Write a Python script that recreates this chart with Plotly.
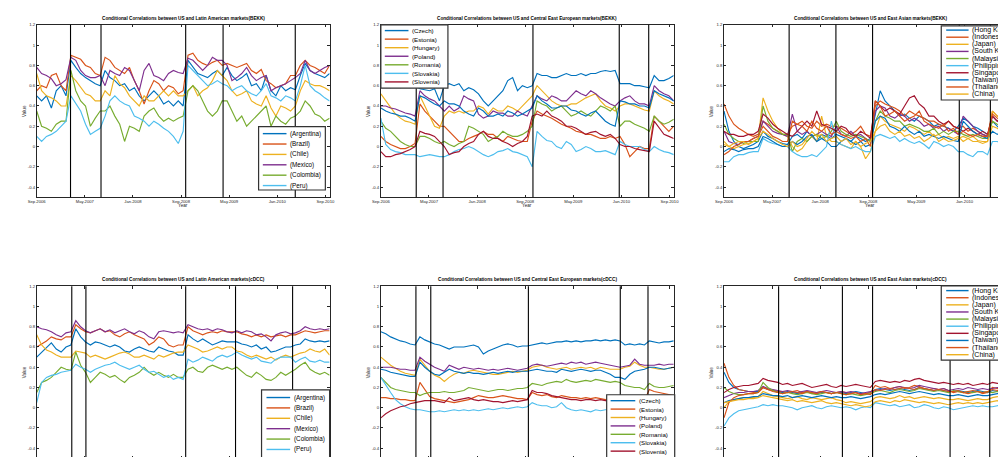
import plotly.graph_objects as go

W, H = 1006, 457
N = 61
X_END = 48.7
months = [i * X_END / (N - 1) for i in range(N)]

tick_vals = [0, 8, 16, 24, 32, 40, 48]
tick_text = ["Sep.2006", "May.2007", "Jan.2008", "Sep.2008", "May.2009", "Jan.2010", "Sep.2010"]
y_tick_vals = [-0.4, -0.2, 0, 0.2, 0.4, 0.6, 0.8, 1, 1.2]
y_tick_text = ["-0.4", "-0.2", "0", "0.2", "0.4", "0.6", "0.8", "1", "1.2"]

COL = ["#0072BD", "#D95319", "#EDB120", "#7E2F8E", "#77AC30", "#4DBEEE", "#A2142F"]

names_la = ["(Argentina)", "(Brazil)", "(Chile)", "(Mexico)", "(Colombia)", "(Peru)"]
names_cee = ["(Czech)", "(Estonia)", "(Hungary)", "(Poland)", "(Romania)", "(Slovakia)", "(Slovenia)"]
names_ea = ["(Hong Kong)", "(Indonesia)", "(Japan)", "(South Korea)", "(Malaysia)", "(Philippines)",
            "(Singapore)", "(Taiwan)", "(Thailand)", "(China)"]

# ---------------- Latin America, BEKK ----------------
la_b_argentina = [0.5,0.45,0.5,0.38,0.55,0.6,0.5, 0.85,0.78,0.72,0.68,0.65,0.62,0.6,
    0.75,0.68,0.65,0.6,0.62,0.55,0.58,0.5,0.45,0.5,0.55,0.5,0.42,0.45,0.4,0.45,0.4,
    0.85,0.78,0.72,0.7,0.68,0.72,0.75,0.7,
    0.78,0.7,0.65,0.68,0.72,0.6,0.62,0.55,0.7,0.55,0.5,0.6,0.55,0.58,0.56,
    0.7,0.82,0.75,0.72,0.7,0.68,0.72]
la_b_brazil = [0.55,0.6,0.58,0.7,0.72,0.6,0.55, 0.9,0.88,0.86,0.8,0.78,0.72,0.7,
    0.88,0.85,0.78,0.75,0.72,0.78,0.65,0.55,0.42,0.55,0.65,0.62,0.55,0.6,0.58,0.52,0.55,
    0.9,0.92,0.85,0.82,0.8,0.83,0.85,0.8,
    0.82,0.8,0.78,0.8,0.82,0.75,0.72,0.76,0.65,0.62,0.58,0.6,0.62,0.7,0.7,
    0.8,0.85,0.8,0.78,0.75,0.72,0.8]
la_b_chile = [0.72,0.55,0.5,0.48,0.45,0.4,0.4, 0.7,0.65,0.58,0.52,0.5,0.45,0.45,
    0.55,0.5,0.7,0.62,0.58,0.5,0.45,0.4,0.5,0.45,0.45,0.5,0.55,0.5,0.55,0.5,0.5,
    0.55,0.6,0.5,0.55,0.58,0.65,0.75,0.7,
    0.65,0.55,0.5,0.52,0.55,0.45,0.42,0.4,0.5,0.38,0.3,0.4,0.38,0.35,0.4,
    0.55,0.65,0.62,0.6,0.6,0.58,0.55]
la_b_mexico = [0.78,0.72,0.7,0.67,0.6,0.62,0.66, 0.88,0.85,0.75,0.7,0.68,0.68,0.7,
    0.6,0.75,0.72,0.7,0.78,0.75,0.65,0.55,0.75,0.82,0.7,0.68,0.65,0.72,0.75,0.73,0.72,
    0.87,0.85,0.8,0.75,0.8,0.88,0.85,0.85,
    0.8,0.65,0.68,0.72,0.78,0.7,0.65,0.68,0.7,0.55,0.58,0.6,0.62,0.65,0.68,
    0.72,0.85,0.75,0.72,0.75,0.78,0.8]
la_b_colombia = [0.35,0.2,0.18,0.15,0.22,0.25,0.25, 0.75,0.55,0.45,0.4,0.2,0.28,0.35,
    0.35,0.4,0.3,0.22,0.05,0.2,0.18,0.15,0.3,0.35,0.38,0.3,0.25,0.28,0.25,0.28,0.3,
    0.55,0.6,0.55,0.45,0.35,0.3,0.35,0.45,
    0.45,0.35,0.25,0.3,0.2,0.25,0.3,0.35,0.4,0.2,0.3,0.25,0.22,0.28,0.3,
    0.35,0.45,0.4,0.32,0.3,0.25,0.28]
la_b_peru = [0.1,0.05,0.1,0.12,0.15,0.2,0.25, 0.5,0.42,0.35,0.22,0.12,0.15,0.18,
    0.3,0.45,0.5,0.45,0.42,0.4,0.3,0.28,0.25,0.2,0.25,0.22,0.18,0.15,0.1,0.03,0.15,
    0.8,0.75,0.7,0.65,0.6,0.62,0.65,0.62,
    0.6,0.55,0.58,0.6,0.55,0.52,0.5,0.55,0.62,0.5,0.48,0.45,0.5,0.48,0.45,
    0.6,0.8,0.6,0.55,0.52,0.48,0.45]

# ---------------- Central East Europe, BEKK ----------------
cee_b_czech = [0.6,0.6,0.58,0.6,0.58,0.6,0.58,0.6, 0.57,0.56,0.55,0.57,0.45,
    0.6,0.62,0.6,0.62,0.55,0.58,0.56,0.52,0.45,0.4,0.45,0.5,0.55,0.65,0.68,0.55,0.6,0.58,0.6,
    0.72,0.7,0.7,0.68,0.68,0.7,0.72,0.7,0.7,0.72,0.7,0.72,0.72,0.74,0.75,0.74,0.75,
    0.62,0.62,0.62,0.6,0.6,0.59,0.58, 0.7,0.65,0.65,0.67,0.7]
cee_b_estonia = [0.1,0.05,0.02,0.0,-0.02,-0.02,0.0,0.03, 0.42,0.35,0.3,0.25,0.2,
    0.2,0.15,0.1,0.05,0.05,0.08,0.1,0.12,0.15,0.12,0.12,0.08,0.05,0.1,0.08,0.06,0.05,0.05,0.25,
    0.35,0.32,0.3,0.28,0.25,0.22,0.2,0.18,0.15,0.14,0.12,0.12,0.1,0.08,0.08,0.1,0.08,
    0.1,0.02,-0.1,-0.05,0.0,-0.02,-0.02, 0.3,0.25,0.2,0.15,0.2]
cee_b_hungary = [0.52,0.45,0.38,0.32,0.28,0.25,0.24,0.22, 0.5,0.4,0.3,0.2,0.18,
    0.3,0.35,0.33,0.35,0.33,0.35,0.35,0.4,0.38,0.32,0.38,0.35,0.35,0.4,0.38,0.35,0.4,0.45,0.5,
    0.6,0.55,0.5,0.45,0.42,0.4,0.4,0.42,0.42,0.45,0.48,0.5,0.52,0.45,0.4,0.38,0.35,
    0.4,0.42,0.42,0.4,0.38,0.36,0.35, 0.55,0.5,0.47,0.45,0.42]
cee_b_poland = [0.4,0.4,0.38,0.37,0.35,0.33,0.32,0.3, 0.55,0.5,0.47,0.45,0.4,
    0.35,0.4,0.35,0.38,0.5,0.47,0.45,0.32,0.28,0.3,0.35,0.33,0.33,0.3,0.3,0.35,0.32,0.3,0.4,
    0.5,0.47,0.45,0.5,0.48,0.45,0.45,0.5,0.55,0.52,0.5,0.55,0.52,0.48,0.45,0.42,0.4,
    0.45,0.48,0.5,0.45,0.42,0.42,0.4, 0.6,0.55,0.52,0.5,0.45]
cee_b_romania = [0.25,0.18,0.15,0.1,0.05,0.02,0.0,0.0, 0.1,0.1,0.08,0.05,0.03,
    0.05,0.02,0.0,0.03,0.05,0.2,0.18,0.15,0.12,0.05,0.08,0.1,0.15,0.12,0.1,0.1,0.12,0.15,0.2,
    0.45,0.42,0.4,0.35,0.38,0.4,0.35,0.3,0.32,0.35,0.32,0.3,0.35,0.4,0.38,0.35,0.4,
    0.2,0.25,0.25,0.22,0.2,0.18,0.15, 0.3,0.25,0.22,0.24,0.27]
cee_b_slovakia = [0.28,0.02,-0.03,-0.05,-0.06,-0.08,-0.08,-0.08, -0.1,-0.09,-0.08,-0.09,-0.1,
    -0.1,-0.08,-0.05,-0.03,-0.02,0.0,-0.02,-0.05,-0.08,-0.1,-0.08,-0.05,-0.04,-0.02,-0.05,-0.06,-0.08,-0.1,-0.2,
    0.15,0.1,0.06,0.05,0.0,-0.02,0.05,0.02,-0.05,-0.03,0.0,-0.02,-0.05,-0.05,-0.04,-0.06,-0.08,
    0.05,0.02,0.0,0.0,0.0,-0.03,-0.05, 0.0,-0.03,-0.05,-0.06,-0.08]
cee_b_slovenia = [-0.05,-0.1,-0.1,-0.08,-0.07,-0.05,-0.03,0.0, 0.15,0.13,0.12,0.1,0.05,
    0.0,-0.08,-0.06,-0.05,0.0,0.03,0.05,0.12,0.15,0.1,0.08,0.08,0.05,0.03,0.0,0.03,0.05,0.1,0.3,
    0.32,0.3,0.35,0.3,0.28,0.25,0.2,0.2,0.18,0.15,0.12,0.14,0.15,0.12,0.1,0.12,0.08,
    0.02,0.0,0.0,-0.02,-0.03,-0.04,-0.05, 0.25,0.18,0.12,0.1,0.08]
cee_b_extra = [0.38,0.35,0.33,0.32,0.3,0.3,0.28,0.25, 0.5,0.48,0.45,0.42,0.4,
    0.45,0.42,0.42,0.4,0.35,0.32,0.3,0.38,0.35,0.3,0.3,0.32,0.3,0.35,0.33,0.3,0.32,0.35,0.38,
    0.5,0.45,0.42,0.38,0.38,0.4,0.4,0.36,0.35,0.32,0.3,0.33,0.35,0.3,0.25,0.22,0.2,
    0.45,0.44,0.42,0.42,0.4,0.4,0.38, 0.55,0.52,0.5,0.48,0.45]

# ---------------- East Asia, BEKK ----------------
ea_b_hongkong = [0.35,0.15,0.05,0.0,-0.02,0.0,0.02,0.05, 0.15,0.1,0.08,0.05,0.03,0.02,
    0.1,0.12,0.08,0.15,0.1,0.05,0.12,0.1,0.08, 0.12,0.1,0.08,0.05,0.1,0.08,0.05,0.08,
    0.3,0.55,0.45,0.4,0.35,0.3,0.32,0.28,0.25,0.3,0.28,0.25,0.2,0.22,0.2,0.18,0.15,0.2,
    0.28,0.25,0.2,0.18,0.15,0.12, 0.25,0.2,0.15,0.18,0.2,0.2]
ea_b_indonesia = [0.42,0.3,0.22,0.18,0.15,0.12,0.1,0.12, 0.25,0.22,0.18,0.15,0.12,0.12,
    0.2,0.22,0.25,0.2,0.18,0.25,0.2,0.22,0.2, 0.2,0.18,0.15,0.12,0.15,0.2,0.12,0.1,
    0.4,0.45,0.42,0.4,0.38,0.35,0.3,0.35,0.32,0.3,0.28,0.25,0.25,0.22,0.2,0.25,0.2,0.18,
    0.2,0.15,0.18,0.15,0.12,0.1, 0.35,0.3,0.28,0.25,0.22,0.2]
ea_b_japan = [0.05,0.0,-0.02,0.0,0.02,0.03,0.05,0.08, 0.48,0.35,0.25,0.18,0.12,0.1,
    0.0,-0.05,-0.02,0.05,0.1,0.05,0.3,0.1,0.05, 0.05,0.02,0.0,-0.02,0.05,0.0,-0.12,-0.05,
    0.15,0.3,0.25,0.22,0.2,0.18,0.15,0.2,0.18,0.15,0.12,0.15,0.1,0.12,0.08,0.1,0.08,0.1,
    0.05,0.08,0.1,0.06,0.05,0.05, 0.35,0.3,0.25,0.22,0.2,0.18]
ea_b_korea = [0.15,0.05,0.03,0.02,0.05,0.05,0.08,0.1, 0.25,0.2,0.15,0.13,0.12,0.1,
    0.32,0.15,0.12,0.15,0.1,0.12,0.15,0.12,0.1, 0.2,0.12,0.1,0.15,0.1,0.12,0.08,0.05,
    0.35,0.4,0.38,0.3,0.28,0.32,0.3,0.25,0.28,0.25,0.2,0.22,0.18,0.2,0.15,0.18,0.15,0.12,
    0.3,0.25,0.2,0.15,0.12,0.1, 0.3,0.25,0.22,0.2,0.18,0.2]
ea_b_malaysia = [0.22,0.12,0.08,0.05,0.03,0.05,0.05,0.05, 0.4,0.25,0.18,0.15,0.12,0.12,
    -0.05,0.05,0.08,0.05,0.1,0.12,0.08,0.1,0.15, 0.25,0.15,0.12,0.1,0.12,0.1,0.08,0.05,
    0.25,0.35,0.3,0.28,0.25,0.25,0.2,0.22,0.2,0.18,0.15,0.15,0.18,0.12,0.15,0.12,0.15,0.15,
    0.12,0.1,0.12,0.1,0.08,0.08, 0.25,0.22,0.2,0.18,0.2,0.2]
ea_b_philippines = [-0.15,-0.15,-0.1,-0.08,-0.08,-0.06,-0.05,-0.05, 0.08,0.05,0.03,0.02,0.0,0.0,
    -0.05,-0.08,-0.1,-0.1,-0.08,-0.1,-0.05,0.0,0.25, 0.05,0.02,0.0,-0.02,0.0,-0.03,-0.05,-0.05,
    0.1,0.12,0.1,0.08,0.1,0.05,0.08,0.05,0.03,0.05,0.02,-0.02,0.05,0.03,0.0,0.02,0.0,-0.05,
    -0.05,-0.08,-0.1,-0.05,-0.05,-0.08, 0.05,0.05,0.03,0.05,0.06,0.06]
ea_b_singapore = [0.15,0.12,0.12,0.1,0.1,0.12,0.12,0.15, 0.32,0.28,0.22,0.18,0.15,0.12,
    0.1,0.15,0.2,0.25,0.2,0.35,0.22,0.2,0.18, 0.15,0.2,0.18,0.12,0.1,0.15,0.12,0.08,
    0.45,0.4,0.35,0.38,0.35,0.32,0.4,0.48,0.5,0.42,0.38,0.3,0.3,0.25,0.22,0.25,0.2,0.18,
    0.15,0.18,0.15,0.12,0.15,0.12, 0.3,0.25,0.3,0.22,0.2,0.2]
ea_b_taiwan = [-0.05,-0.02,-0.03,-0.05,-0.03,-0.02,-0.02,0.0, 0.1,0.08,0.05,0.02,0.0,0.0,
    0.05,0.02,0.05,0.1,0.12,0.05,0.08,0.05,0.0, 0.0,0.05,0.08,0.05,0.02,0.05,0.0,0.02,
    0.25,0.3,0.28,0.2,0.18,0.15,0.2,0.15,0.12,0.15,0.1,0.12,0.1,0.08,0.1,0.08,0.06,0.05,
    0.25,0.2,0.15,0.12,0.1,0.08, 0.15,0.12,0.15,0.12,0.12,0.12]
ea_b_thailand = [-0.08,-0.05,0.0,0.02,0.05,0.05,0.08,0.1, 0.2,0.15,0.1,0.08,0.05,0.05,
    0.25,0.22,0.2,0.15,0.25,0.18,0.15,0.2,0.12, 0.15,0.12,0.1,0.08,0.1,0.05,0.08,0.0,
    0.45,0.4,0.3,0.32,0.35,0.3,0.25,0.28,0.3,0.35,0.25,0.22,0.2,0.18,0.22,0.15,0.18,0.12,
    0.15,0.12,0.1,0.12,0.1,0.1, 0.32,0.28,0.25,0.3,0.25,0.22]
ea_b_china = [0.02,0.0,0.03,0.05,0.05,0.02,0.05,0.08, 0.15,0.12,0.08,0.05,0.02,0.0,
    0.05,0.0,0.02,0.08,0.15,0.1,0.12,0.05,0.08, 0.1,0.05,0.08,0.02,0.05,0.0,0.03,0.05,
    0.15,0.2,0.22,0.15,0.12,0.15,0.1,0.12,0.08,0.1,0.05,0.08,0.12,0.05,0.08,0.05,0.06,0.08,
    0.1,0.08,0.05,0.05,0.03,0.05, 0.2,0.18,0.15,0.15,0.12,0.12]

# ---------------- Latin America, cDCC ----------------
la_c_argentina = [0.5,0.55,0.6,0.64,0.58,0.55,0.6,0.62, 0.78,0.7,0.65,
    0.62,0.65,0.64,0.62,0.6,0.62,0.6,0.56,0.55,0.58,0.6,0.58,0.56,0.55,0.6,0.58,0.56,0.55,0.52,0.52,
    0.72,0.68,0.65,0.68,0.65,0.62,0.64,0.66,0.65,0.65,
    0.65,0.63,0.62,0.6,0.62,0.58,0.6,0.55,0.56,0.58,0.6,0.6,
    0.62,0.63,0.68,0.66,0.65,0.66,0.65,0.66]
la_c_brazil = [0.6,0.63,0.66,0.7,0.68,0.67,0.7,0.7, 0.82,0.78,0.75,
    0.74,0.76,0.78,0.75,0.76,0.72,0.7,0.73,0.75,0.72,0.7,0.68,0.62,0.65,0.7,0.68,0.62,0.6,0.62,0.62,
    0.8,0.76,0.74,0.72,0.74,0.75,0.74,0.76,0.75,0.75,
    0.75,0.73,0.72,0.7,0.72,0.7,0.72,0.7,0.71,0.72,0.7,0.72,
    0.72,0.74,0.76,0.75,0.74,0.75,0.76,0.76]
la_c_chile = [0.72,0.62,0.57,0.55,0.52,0.5,0.5,0.5, 0.56,0.55,0.54,
    0.5,0.52,0.5,0.48,0.5,0.52,0.54,0.55,0.53,0.5,0.5,0.52,0.5,0.48,0.52,0.5,0.52,0.54,0.55,0.55,
    0.62,0.6,0.58,0.55,0.56,0.58,0.6,0.58,0.6,0.6,
    0.56,0.55,0.52,0.5,0.52,0.5,0.48,0.5,0.47,0.5,0.52,0.5,
    0.52,0.54,0.55,0.58,0.56,0.55,0.58,0.52]
la_c_mexico = [0.8,0.78,0.77,0.75,0.72,0.7,0.74,0.75, 0.86,0.8,0.76,
    0.74,0.76,0.78,0.75,0.77,0.74,0.76,0.78,0.75,0.73,0.76,0.74,0.7,0.68,0.75,0.76,0.75,0.74,0.75,0.74,
    0.82,0.8,0.78,0.77,0.78,0.76,0.78,0.77,0.75,0.74,
    0.76,0.74,0.76,0.75,0.72,0.73,0.7,0.66,0.72,0.74,0.75,0.73,
    0.74,0.76,0.8,0.78,0.77,0.78,0.77,0.78]
la_c_colombia = [0.15,0.25,0.27,0.3,0.35,0.4,0.38,0.37, 0.55,0.42,0.35,
    0.25,0.3,0.35,0.33,0.3,0.32,0.28,0.25,0.3,0.32,0.35,0.4,0.35,0.32,0.35,0.32,0.3,0.33,0.3,0.3,
    0.38,0.4,0.36,0.35,0.4,0.42,0.4,0.38,0.4,0.38,
    0.4,0.36,0.32,0.3,0.35,0.32,0.28,0.27,0.3,0.35,0.32,0.35,
    0.38,0.42,0.45,0.38,0.35,0.33,0.35,0.32]
la_c_peru = [0.05,0.25,0.3,0.32,0.33,0.35,0.36,0.37, 0.43,0.4,0.38,
    0.35,0.38,0.4,0.42,0.43,0.45,0.42,0.4,0.38,0.4,0.42,0.38,0.35,0.36,0.33,0.3,0.32,0.28,0.3,0.28,
    0.48,0.45,0.47,0.5,0.48,0.46,0.5,0.52,0.5,0.52,
    0.55,0.52,0.5,0.48,0.5,0.46,0.45,0.44,0.48,0.5,0.5,0.5,
    0.45,0.48,0.5,0.46,0.45,0.47,0.45,0.45]

# ---------------- Central East Europe, cDCC ----------------
cee_c_czech = [0.75,0.73,0.7,0.68,0.66,0.65,0.63,0.62, 0.7,0.67,0.65,
    0.63,0.62,0.6,0.58,0.6,0.6,0.6,0.61,0.62,0.6,0.53,0.56,0.58,0.6,0.62,0.63,0.62,0.6,0.61,0.61,
    0.62,0.63,0.64,0.63,0.64,0.65,0.65,0.66,0.65,0.66,0.65,0.66,0.66,0.67,0.66,0.67,0.66,0.67,0.66,
    0.62,0.63,0.62,0.63,0.62, 0.66,0.65,0.64,0.65,0.65,0.66]
cee_c_estonia = [0.1,0.1,0.09,0.09,0.08,0.08,0.07,0.07, 0.25,0.18,0.11,
    0.09,0.08,0.07,0.06,0.05,0.06,0.07,0.08,0.1,0.12,0.11,0.1,0.1,0.11,0.12,0.11,0.1,0.09,0.09,0.08,
    0.15,0.13,0.12,0.13,0.11,0.1,0.12,0.11,0.1,0.1,0.09,0.1,0.09,0.1,0.09,0.08,0.09,0.08,0.08,
    0.08,0.09,0.08,0.08,0.07, 0.18,0.16,0.15,0.14,0.13,0.12]
cee_c_hungary = [0.5,0.46,0.42,0.39,0.36,0.34,0.33,0.32, 0.48,0.42,0.36,
    0.32,0.3,0.26,0.3,0.33,0.35,0.34,0.36,0.37,0.36,0.35,0.34,0.33,0.33,0.34,0.35,0.36,0.35,0.36,0.37,
    0.4,0.41,0.42,0.4,0.39,0.38,0.39,0.4,0.38,0.39,0.4,0.39,0.4,0.38,0.4,0.39,0.38,0.38,0.38,
    0.4,0.41,0.45,0.42,0.4, 0.4,0.39,0.38,0.38,0.39,0.4]
cee_c_poland = [0.4,0.4,0.4,0.39,0.38,0.38,0.37,0.37, 0.5,0.46,0.43,
    0.4,0.38,0.36,0.42,0.4,0.38,0.4,0.39,0.38,0.39,0.38,0.37,0.38,0.37,0.38,0.39,0.38,0.37,0.38,0.39,
    0.42,0.43,0.42,0.41,0.42,0.43,0.44,0.43,0.45,0.44,0.45,0.43,0.44,0.45,0.44,0.43,0.42,0.41,0.4,
    0.41,0.42,0.48,0.43,0.42, 0.42,0.42,0.43,0.42,0.43,0.43]
cee_c_romania = [0.3,0.25,0.2,0.18,0.17,0.16,0.15,0.15, 0.12,0.14,0.15,
    0.15,0.15,0.16,0.15,0.15,0.16,0.17,0.2,0.19,0.18,0.17,0.16,0.17,0.18,0.18,0.17,0.18,0.19,0.19,0.2,
    0.24,0.23,0.22,0.24,0.25,0.26,0.25,0.28,0.26,0.25,0.26,0.27,0.26,0.28,0.27,0.26,0.25,0.26,0.25,
    0.22,0.21,0.2,0.2,0.18, 0.24,0.21,0.2,0.2,0.21,0.22]
cee_c_slovakia = [0.3,0.22,0.15,0.08,0.04,0.01,-0.01,-0.02, -0.02,-0.03,-0.04,
    -0.04,-0.03,-0.04,-0.03,-0.02,-0.03,-0.02,-0.03,-0.02,-0.03,-0.02,-0.01,-0.02,-0.01,0.0,-0.01,0.0,0.01,0.0,0.01,
    0.05,0.03,0.02,0.02,0.0,0.01,0.05,0.0,-0.02,-0.03,-0.02,-0.03,-0.04,-0.02,-0.03,-0.02,-0.02,-0.03,-0.02,
    -0.03,-0.03,-0.02,-0.03,-0.03, -0.01,-0.02,-0.02,-0.01,-0.02,-0.02]
cee_c_slovenia = [-0.1,-0.06,-0.03,-0.01,0.01,0.02,0.04,0.05, 0.06,0.07,0.07,
    0.07,0.06,0.05,0.1,0.07,0.08,0.09,0.1,0.08,0.07,0.08,0.07,0.06,0.06,0.05,0.06,0.07,0.06,0.07,0.08,
    0.17,0.15,0.15,0.14,0.12,0.11,0.1,0.09,0.08,0.08,0.07,0.08,0.08,0.07,0.08,0.07,0.07,0.08,0.07,
    0.08,0.07,0.08,0.07,0.07, 0.1,0.1,0.09,0.1,0.1,0.1]
cee_c_extra = [0.38,0.37,0.35,0.34,0.33,0.32,0.31,0.31, 0.45,0.4,0.36,
    0.33,0.32,0.35,0.38,0.36,0.35,0.34,0.35,0.34,0.34,0.33,0.34,0.35,0.34,0.35,0.36,0.35,0.36,0.36,0.36,
    0.37,0.38,0.37,0.36,0.36,0.35,0.38,0.37,0.36,0.37,0.38,0.37,0.36,0.37,0.37,0.35,0.33,0.3,0.3,
    0.28,0.33,0.36,0.37,0.38, 0.4,0.4,0.39,0.38,0.39,0.4]

# ---------------- East Asia, cDCC ----------------
ea_c_hongkong = [0.35,0.25,0.2,0.18,0.17,0.16,0.16,0.16, 0.2,0.18,0.17,0.16,
    0.15,0.16,0.15,0.14,0.15,0.16,0.15,0.14,0.15,0.15,0.14,0.15,0.15, 0.14,0.15,0.16,0.15,0.14,0.15,
    0.18,0.19,0.18,0.17,0.18,0.19,0.18,0.17,0.18,0.2,0.19,0.18,0.17,0.18,0.17,0.16,
    0.16,0.17,0.16,0.15,0.16,0.17,0.16,0.15, 0.17,0.16,0.17,0.16,0.17,0.16]
ea_c_indonesia = [0.44,0.3,0.22,0.18,0.17,0.16,0.15,0.15, 0.2,0.18,0.17,0.16,
    0.16,0.15,0.16,0.17,0.15,0.16,0.14,0.15,0.16,0.15,0.14,0.15,0.16, 0.15,0.14,0.15,0.13,0.14,0.15,
    0.22,0.2,0.21,0.19,0.2,0.21,0.19,0.2,0.22,0.21,0.19,0.18,0.19,0.18,0.19,0.17,
    0.15,0.16,0.15,0.14,0.15,0.16,0.14,0.15, 0.2,0.19,0.18,0.19,0.18,0.18]
ea_c_japan = [0.0,0.06,0.08,0.09,0.1,0.1,0.1,0.11, 0.16,0.14,0.12,0.11,
    0.1,0.09,0.1,0.11,0.09,0.08,0.1,0.09,0.08,0.09,0.1,0.08,0.07, 0.05,0.06,0.05,0.04,0.05,0.06,
    0.1,0.11,0.1,0.09,0.1,0.12,0.1,0.11,0.09,0.1,0.11,0.1,0.09,0.1,0.09,0.08,
    0.08,0.09,0.08,0.07,0.08,0.09,0.08,0.08, 0.1,0.11,0.1,0.1,0.11,0.1]
ea_c_korea = [0.1,0.12,0.14,0.15,0.15,0.16,0.16,0.17, 0.21,0.19,0.18,0.17,
    0.16,0.17,0.16,0.15,0.16,0.17,0.16,0.15,0.16,0.17,0.16,0.15,0.16, 0.15,0.16,0.15,0.14,0.15,0.16,
    0.17,0.18,0.19,0.18,0.2,0.21,0.2,0.19,0.2,0.22,0.21,0.2,0.19,0.18,0.19,0.17,
    0.18,0.19,0.18,0.2,0.19,0.18,0.19,0.18, 0.19,0.2,0.19,0.2,0.19,0.2]
ea_c_malaysia = [0.2,0.16,0.14,0.13,0.13,0.14,0.14,0.15, 0.25,0.2,0.17,0.15,
    0.14,0.15,0.14,0.13,0.14,0.15,0.14,0.13,0.14,0.15,0.14,0.15,0.14, 0.13,0.14,0.13,0.12,0.13,0.14,
    0.16,0.17,0.16,0.15,0.17,0.18,0.17,0.16,0.17,0.19,0.18,0.17,0.16,0.17,0.16,0.15,
    0.17,0.16,0.15,0.16,0.15,0.16,0.15,0.16, 0.15,0.16,0.15,0.16,0.15,0.15]
ea_c_philippines = [-0.18,-0.1,-0.06,-0.03,-0.02,-0.01,0.0,0.01, 0.03,0.02,0.03,0.02,
    0.02,0.01,0.0,-0.02,0.0,0.01,0.02,0.0,-0.01,0.01,0.02,0.01,0.0, 0.01,0.0,-0.02,0.0,0.01,0.0,
    0.05,0.04,0.03,0.02,0.03,0.01,0.02,0.03,0.0,0.01,0.03,0.02,0.0,-0.01,0.01,0.0,
    -0.02,-0.01,0.0,0.01,0.02,0.01,0.02,0.01, 0.01,0.02,0.03,0.02,0.03,0.03]
ea_c_singapore = [0.15,0.18,0.2,0.21,0.22,0.22,0.23,0.24, 0.29,0.27,0.26,0.25,
    0.23,0.24,0.22,0.23,0.24,0.22,0.2,0.21,0.22,0.23,0.21,0.2,0.22, 0.21,0.22,0.23,0.22,0.21,0.2,
    0.26,0.27,0.26,0.25,0.26,0.25,0.27,0.26,0.28,0.29,0.27,0.26,0.25,0.24,0.25,0.24,
    0.23,0.24,0.23,0.24,0.22,0.23,0.24,0.23, 0.25,0.24,0.25,0.25,0.26,0.25]
ea_c_taiwan = [0.05,0.07,0.08,0.09,0.1,0.1,0.11,0.11, 0.14,0.13,0.12,0.12,
    0.11,0.12,0.1,0.11,0.12,0.11,0.1,0.11,0.12,0.11,0.1,0.11,0.1, 0.1,0.11,0.1,0.09,0.1,0.11,
    0.13,0.14,0.13,0.14,0.15,0.16,0.15,0.14,0.15,0.16,0.15,0.14,0.13,0.14,0.13,0.12,
    0.12,0.13,0.12,0.11,0.12,0.13,0.12,0.12, 0.13,0.14,0.13,0.14,0.13,0.13]
ea_c_thailand = [-0.1,0.05,0.1,0.12,0.13,0.14,0.14,0.15, 0.2,0.18,0.16,0.15,
    0.14,0.15,0.16,0.15,0.14,0.16,0.15,0.14,0.16,0.15,0.14,0.15,0.14, 0.13,0.14,0.15,0.13,0.14,0.13,
    0.18,0.17,0.18,0.19,0.18,0.19,0.2,0.19,0.18,0.2,0.19,0.18,0.17,0.18,0.17,0.16,
    0.16,0.17,0.15,0.16,0.17,0.16,0.15,0.16, 0.18,0.17,0.18,0.17,0.18,0.17]
ea_c_china = [0.05,0.06,0.07,0.08,0.08,0.09,0.09,0.1, 0.12,0.11,0.1,0.09,
    0.08,0.07,0.08,0.06,0.07,0.06,0.05,0.06,0.07,0.05,0.04,0.05,0.04, 0.03,0.02,0.03,0.02,0.01,0.02,
    0.06,0.07,0.06,0.05,0.07,0.06,0.08,0.07,0.06,0.05,0.06,0.05,0.04,0.05,0.04,0.03,
    0.04,0.05,0.04,0.05,0.04,0.05,0.04,0.05, 0.06,0.07,0.06,0.07,0.06,0.07]

# structural break dates (months since Sep.2006)
breaks_la_b = [5.62, 10.69, 24.77, 30.99, 42.99]
breaks_cee_b = [5.88, 10.34, 25.29, 39.64, 44.54]
breaks_ea_b = [10.83, 18.61, 24.71, 39.13, 44.3]
breaks_la_c = [5.83, 8.18, 24.77, 33.06, 42.55]
breaks_cee_c = [5.83, 8.30, 24.53, 39.81, 44.42]
breaks_ea_c = [9.08, 19.69, 24.71, 37.6, 44.2]

FONT = "Liberation Sans, Arial, sans-serif"
AXC = "#262626"

def px_x(p):
    return p / W

def px_y(p):
    return 1 - p / H

col_dom = [(20, 317), (369, 666), (717, 1006)]
row_dom = [(14, 188.3), (278.3, 452.3)]
x_ranges = [[0, 48.7], [0, 48.7], [0, 47.4]]

panels = [
    dict(title="Conditional Correlations between US and Latin American markets(BEKK)",
         series=[la_b_argentina, la_b_brazil, la_b_chile, la_b_mexico, la_b_colombia, la_b_peru],
         names=names_la, breaks=breaks_la_b, row=0, col=0,
         leg=dict(box=(245, 117, 312.7, 181), y0=124, dy=10.5, lx=(249.3, 273.3), tx=275, fs=6.3)),
    dict(title="Conditional Correlations between US and Central East European markets(BEKK)",
         series=[cee_b_czech, cee_b_estonia, cee_b_hungary, cee_b_poland, cee_b_romania,
                 cee_b_slovakia, cee_b_slovenia, cee_b_extra],
         names=names_cee, breaks=breaks_cee_b, row=0, col=1,
         leg=dict(box=(369, 14, 437, 78), y0=19.8, dy=8.65, lx=(373, 397), tx=399, fs=6.2)),
    dict(title="Conditional Correlations between US and East Asian markets(BEKK)",
         series=[ea_b_hongkong, ea_b_indonesia, ea_b_japan, ea_b_korea, ea_b_malaysia,
                 ea_b_philippines, ea_b_singapore, ea_b_taiwan, ea_b_thailand, ea_b_china],
         names=names_ea, breaks=breaks_ea_b, row=0, col=2,
         leg=dict(box=(937.3, 15, 1012, 90), y0=19.3, dy=7.19, lx=(942.3, 965), tx=966, fs=7)),
    dict(title="Conditional Correlations between US and Latin American markets(cDCC)",
         series=[la_c_argentina, la_c_brazil, la_c_chile, la_c_mexico, la_c_colombia, la_c_peru],
         names=names_la, breaks=breaks_la_c, row=1, col=0,
         leg=dict(box=(248, 383, 317, 452), y0=390.8, dy=10.5, lx=(253, 277), tx=279, fs=6.3)),
    dict(title="Conditional Correlations between US and Central East European markets(cDCC)",
         series=[cee_c_czech, cee_c_estonia, cee_c_hungary, cee_c_poland, cee_c_romania,
                 cee_c_slovakia, cee_c_slovenia, cee_c_extra],
         names=names_cee, breaks=breaks_cee_c, row=1, col=1,
         leg=dict(box=(598, 388, 667, 452), y0=394, dy=8.5, lx=(602, 627), tx=629, fs=6.2)),
    dict(title="Conditional Correlations between US and East Asian markets(cDCC)",
         series=[ea_c_hongkong, ea_c_indonesia, ea_c_japan, ea_c_korea, ea_c_malaysia,
                 ea_c_philippines, ea_c_singapore, ea_c_taiwan, ea_c_thailand, ea_c_china],
         names=names_ea, breaks=breaks_ea_c, row=1, col=2,
         leg=dict(box=(937.3, 278, 1012, 353), y0=282.7, dy=7.2, lx=(942.3, 965), tx=966, fs=7)),
]

fig = go.Figure()
shapes = []
annotations = []
layout_axes = {}

for k, p in enumerate(panels, start=1):
    xa = "x" if k == 1 else f"x{k}"
    ya = "y" if k == 1 else f"y{k}"
    c0, c1 = col_dom[p["col"]]
    r0, r1 = row_dom[p["row"]]
    for j, ser in enumerate(p["series"]):
        assert len(ser) == N, (p["title"], j, len(ser))
        fig.add_trace(go.Scatter(x=months, y=ser, mode="lines", xaxis=xa, yaxis=ya,
                                 line=dict(color=COL[j % 7], width=1.15), showlegend=False,
                                 hoverinfo="skip"))
    last_col = p["col"] == 2
    layout_axes["xaxis" if k == 1 else f"xaxis{k}"] = dict(
        domain=[px_x(c0), px_x(c1)], range=x_ranges[p["col"]], anchor=ya,
        tickmode="array", tickvals=tick_vals, ticktext=tick_text,
        ticks="inside", ticklen=2.5, tickwidth=0.6, tickcolor=AXC,
        showline=True, linecolor=AXC, linewidth=0.8, mirror="ticks",
        showgrid=False, zeroline=False,
        tickfont=dict(family=FONT, size=4.2, color=AXC))
    layout_axes["yaxis" if k == 1 else f"yaxis{k}"] = dict(
        domain=[px_y(r1), px_y(r0)], range=[-0.5, 1.2], anchor=xa,
        tickmode="array", tickvals=y_tick_vals, ticktext=y_tick_text,
        ticks="inside", ticklen=2.5, tickwidth=0.6, tickcolor=AXC,
        showline=True, linecolor=AXC, linewidth=0.8,
        mirror=False if last_col else "ticks",
        showgrid=False, zeroline=False,
        tickfont=dict(family=FONT, size=4.2, color=AXC))
    for b in p["breaks"]:
        shapes.append(dict(type="line", xref=xa, yref=f"{ya} domain", x0=b, x1=b, y0=0, y1=1,
                           line=dict(color="#000000", width=1.1)))
    cx = (c0 + (c1 if not last_col else c0 + 297)) / 2
    annotations.append(dict(text="<b>" + p["title"] + "</b>", xref="paper", yref="paper",
                            x=px_x(cx), y=px_y(r0 - 2.3), xanchor="center", yanchor="bottom",
                            showarrow=False, font=dict(family=FONT, size=4.7, color="#000000")))
    annotations.append(dict(text="Value", xref="paper", yref="paper", textangle=-90,
                            x=px_x(c0 - 13), y=px_y((r0 + r1) / 2), xanchor="center",
                            yanchor="middle", showarrow=False,
                            font=dict(family=FONT, size=4.6, color=AXC)))
    annotations.append(dict(text="Year", xref="paper", yref="paper",
                            x=px_x(cx), y=px_y(r1 + 8), xanchor="center",
                            yanchor="middle", showarrow=False,
                            font=dict(family=FONT, size=4.6, color=AXC)))
    lg = p["leg"]
    bx0, by0, bx1, by1 = lg["box"]
    shapes.append(dict(type="rect", xref="paper", yref="paper",
                       x0=px_x(bx0), x1=px_x(bx1), y0=px_y(by1), y1=px_y(by0),
                       fillcolor="#ffffff", line=dict(color="#333333", width=1.2)))
    for j, nm in enumerate(p["names"]):
        yy = lg["y0"] + j * lg["dy"]
        shapes.append(dict(type="line", xref="paper", yref="paper",
                           x0=px_x(lg["lx"][0]), x1=px_x(lg["lx"][1]), y0=px_y(yy), y1=px_y(yy),
                           line=dict(color=COL[j % 7], width=1.4)))
        annotations.append(dict(text=nm, xref="paper", yref="paper",
                                x=px_x(lg["tx"]), y=px_y(yy), xanchor="left", yanchor="middle",
                                showarrow=False,
                                font=dict(family=FONT, size=lg["fs"], color="#000000")))

fig.update_layout(width=W, height=H, margin=dict(l=0, r=0, t=0, b=0),
                  paper_bgcolor="#ffffff", plot_bgcolor="#ffffff",
                  shapes=shapes, annotations=annotations, showlegend=False,
                  **layout_axes)

fig.write_html("out.html")
